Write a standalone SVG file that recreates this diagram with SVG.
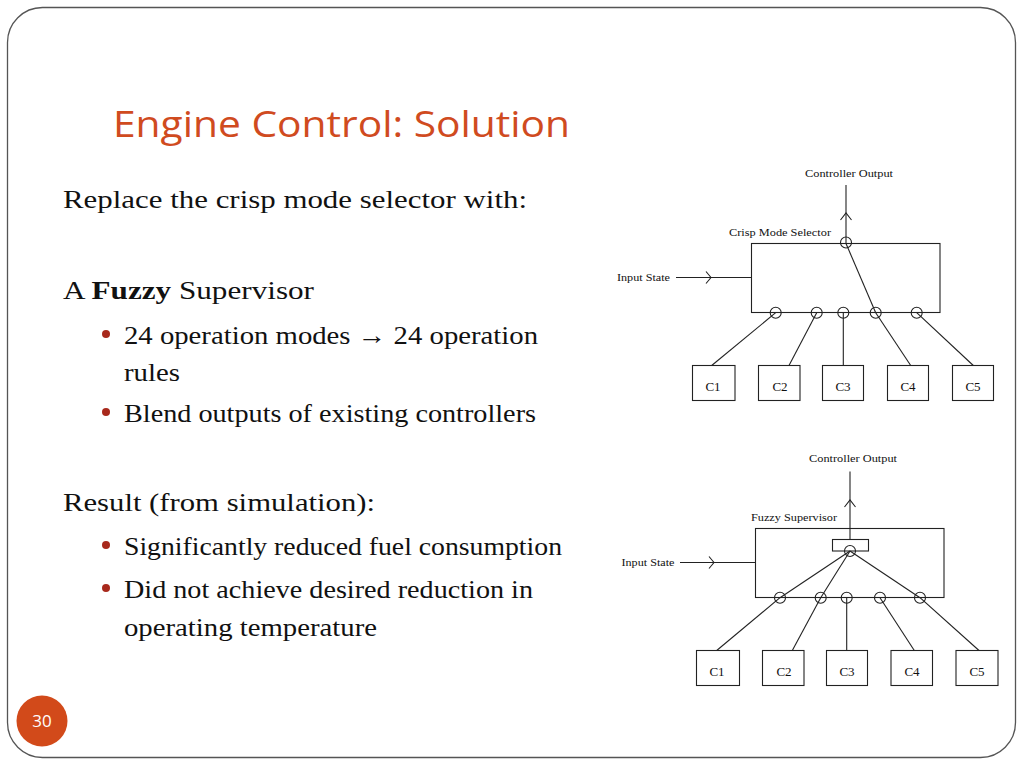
<svg xmlns="http://www.w3.org/2000/svg" width="1024" height="768" viewBox="0 0 1024 768">
<defs>
<style>
.title{font-family:"Open Sans","Liberation Sans",sans-serif;font-size:37px;fill:#D04B1F}
.body{font-family:"Liberation Serif",serif;font-size:26px;fill:#111}
.bul{fill:#A8291C}
.ln{stroke:#222;stroke-width:1.1;fill:none}
.box{stroke:#222;stroke-width:1.1;fill:#fff}
.lbl{font-family:"Liberation Serif",serif;font-size:11px;fill:#111}
.cl{font-family:"Liberation Serif",serif;font-size:13px;fill:#111;text-anchor:middle}
</style>
</defs>
<rect width="1024" height="768" fill="#fff"/>
<rect x="7.5" y="7.5" width="1008" height="750" rx="35" ry="35" fill="none" stroke="#555" stroke-width="1.3"/>

<text class="title" x="113" y="137" textLength="457" lengthAdjust="spacingAndGlyphs">Engine Control: Solution</text>

<g id="text">
<text class="body" x="63" y="208" textLength="464" lengthAdjust="spacingAndGlyphs">Replace the crisp mode selector with:</text>
<text class="body" x="63" y="299" textLength="251" lengthAdjust="spacingAndGlyphs">A <tspan font-weight="bold">Fuzzy</tspan> Supervisor</text>
<circle class="bul" cx="106" cy="334" r="4"/>
<text class="body" x="124" y="344" textLength="414" lengthAdjust="spacingAndGlyphs">24 operation modes → 24 operation</text>
<text class="body" x="124" y="381" textLength="56" lengthAdjust="spacingAndGlyphs">rules</text>
<circle class="bul" cx="106" cy="412" r="4"/>
<text class="body" x="124" y="422" textLength="412" lengthAdjust="spacingAndGlyphs">Blend outputs of existing controllers</text>
<text class="body" x="63" y="511" textLength="312" lengthAdjust="spacingAndGlyphs">Result (from simulation):</text>
<circle class="bul" cx="106" cy="545" r="4"/>
<text class="body" x="124" y="555" textLength="438" lengthAdjust="spacingAndGlyphs">Significantly reduced fuel consumption</text>
<circle class="bul" cx="106" cy="588" r="4"/>
<text class="body" x="124" y="598" textLength="409" lengthAdjust="spacingAndGlyphs">Did not achieve desired reduction in</text>
<text class="body" x="124" y="636" textLength="253" lengthAdjust="spacingAndGlyphs">operating temperature</text>
</g>

<!-- Diagram 1: Crisp Mode Selector -->
<g id="crisp-selector">
<rect class="box" x="751.5" y="243.5" width="188.5" height="69"/>
<text class="lbl" x="729" y="236" textLength="102" lengthAdjust="spacingAndGlyphs">Crisp Mode Selector</text>
</g>
<g id="crisp-labels">
<text class="lbl" x="805" y="177" textLength="88" lengthAdjust="spacingAndGlyphs">Controller Output</text>
<text class="lbl" x="617" y="281" textLength="53" lengthAdjust="spacingAndGlyphs">Input State</text>
</g>
<g id="crisp-c1"><rect class="box" x="692.5" y="365.5" width="42.5" height="35"/><text class="cl" x="713" y="391">C1</text></g>
<g id="crisp-c2"><rect class="box" x="758.5" y="365.5" width="41.5" height="35"/><text class="cl" x="780" y="391">C2</text></g>
<g id="crisp-c3"><rect class="box" x="822.5" y="365.5" width="41" height="35"/><text class="cl" x="843" y="391">C3</text></g>
<g id="crisp-c4"><rect class="box" x="887.5" y="365.5" width="41" height="35"/><text class="cl" x="908" y="391">C4</text></g>
<g id="crisp-c5"><rect class="box" x="952.5" y="365.5" width="41" height="35"/><text class="cl" x="973" y="391">C5</text></g>
<g id="crisp-connectors">
<line class="ln" x1="846" y1="185" x2="846" y2="243.5"/>
<polyline class="ln" points="840.5,220 846,213 851.5,220"/>
<line class="ln" x1="676" y1="277.5" x2="751.5" y2="277.5"/>
<polyline class="ln" points="706,271.5 711,277.5 706,283.5"/>
<line class="ln" x1="846" y1="243.5" x2="875.7" y2="312.7"/>
<line class="ln" x1="711.7" y1="365.5" x2="775.7" y2="312.7"/>
<line class="ln" x1="789" y1="365.5" x2="816.7" y2="312.7"/>
<line class="ln" x1="843.3" y1="365.5" x2="843.3" y2="312.7"/>
<line class="ln" x1="910.7" y1="365.5" x2="875.7" y2="312.7"/>
<line class="ln" x1="973.3" y1="365.5" x2="916.7" y2="312.7"/>
<circle class="ln" cx="846" cy="242.5" r="5.5"/>
<circle class="ln" cx="775.7" cy="312.7" r="5.5"/>
<circle class="ln" cx="816.7" cy="312.7" r="5.5"/>
<circle class="ln" cx="843.3" cy="312.7" r="5.5"/>
<circle class="ln" cx="875.7" cy="312.7" r="5.5"/>
<circle class="ln" cx="916.7" cy="312.7" r="5.5"/>
</g>

<!-- Diagram 2: Fuzzy Supervisor -->
<g id="fuzzy-supervisor">
<rect class="box" x="755.5" y="528.5" width="188.5" height="69"/>
<rect class="box" x="832.5" y="539.5" width="36" height="11.5"/>
<text class="lbl" x="751" y="521" textLength="86" lengthAdjust="spacingAndGlyphs">Fuzzy Supervisor</text>
</g>
<g id="fuzzy-labels">
<text class="lbl" x="809" y="462" textLength="88" lengthAdjust="spacingAndGlyphs">Controller Output</text>
<text class="lbl" x="621.5" y="566" textLength="53" lengthAdjust="spacingAndGlyphs">Input State</text>
</g>
<g id="fuzzy-c1"><rect class="box" x="696.5" y="650.5" width="43" height="35"/><text class="cl" x="717" y="676">C1</text></g>
<g id="fuzzy-c2"><rect class="box" x="762.5" y="650.5" width="41.5" height="35"/><text class="cl" x="784" y="676">C2</text></g>
<g id="fuzzy-c3"><rect class="box" x="826.5" y="650.5" width="41" height="35"/><text class="cl" x="847" y="676">C3</text></g>
<g id="fuzzy-c4"><rect class="box" x="891" y="650.5" width="41.5" height="35"/><text class="cl" x="912" y="676">C4</text></g>
<g id="fuzzy-c5"><rect class="box" x="956" y="650.5" width="42" height="35"/><text class="cl" x="977" y="676">C5</text></g>
<g id="fuzzy-connectors">
<line class="ln" x1="850" y1="471.5" x2="850" y2="539.5"/>
<polyline class="ln" points="844.5,507 850,500 855.5,507"/>
<line class="ln" x1="680" y1="562.5" x2="755.5" y2="562.5"/>
<polyline class="ln" points="709,556.5 714,562.5 709,568.5"/>
<line class="ln" x1="850" y1="551" x2="780" y2="597.7"/>
<line class="ln" x1="850" y1="551" x2="820.7" y2="597.7"/>
<line class="ln" x1="850" y1="551" x2="920" y2="597.7"/>
<line class="ln" x1="716.7" y1="650.5" x2="780" y2="597.7"/>
<line class="ln" x1="792.3" y1="650.5" x2="820.7" y2="597.7"/>
<line class="ln" x1="846.7" y1="650.5" x2="846.7" y2="597.7"/>
<line class="ln" x1="914.3" y1="650.5" x2="880" y2="597.7"/>
<line class="ln" x1="979" y1="650.5" x2="920" y2="597.7"/>
<circle class="ln" cx="850" cy="551" r="5.5"/>
<circle class="ln" cx="780" cy="597.7" r="5.5"/>
<circle class="ln" cx="820.7" cy="597.7" r="5.5"/>
<circle class="ln" cx="846.7" cy="597.7" r="5.5"/>
<circle class="ln" cx="880" cy="597.7" r="5.5"/>
<circle class="ln" cx="920" cy="597.7" r="5.5"/>
</g>

<g id="page-number">
<circle cx="42" cy="721" r="25.5" fill="#D24A1A"/>
<text x="42" y="727" font-family="'Open Sans','Liberation Sans',sans-serif" font-size="17" fill="#fff" text-anchor="middle">30</text>
</g>
</svg>
